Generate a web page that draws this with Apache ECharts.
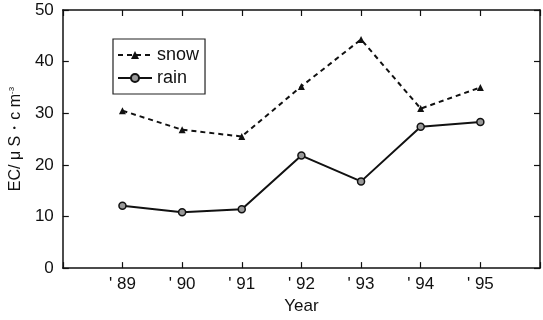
<!DOCTYPE html>
<html><head><meta charset="utf-8">
<script src="https://cdn.jsdelivr.net/npm/echarts@6/dist/echarts.min.js"></script>
<style>html,body{margin:0;padding:0;background:#fff}#c{width:543px;height:320px}</style>
</head><body><div id="c"></div>
<script>
const years = [89, 90, 91, 92, 93, 94, 95];
const snow = [30.5, 26.8, 25.5, 35.2, 44.3, 30.9, 35.0];
const rain = [12.1, 10.8, 11.4, 21.8, 16.8, 27.4, 28.3];
const yTicks = [0, 10, 20, 30, 40, 50];

const font = 'Liberation Sans, Arial, sans-serif';
const chart = echarts.init(document.getElementById('c'));
const axisLine = {show: true, onZero: false, lineStyle: {color: '#111', width: 1.5}};
const tick = {inside: true, length: 6, lineStyle: {color: '#111', width: 1.2},
  interval: (i, v) => true};
chart.setOption({
  animation: false,
  backgroundColor: '#fff',
  grid: {left: 62, right: 2, top: 10, bottom: 45},
  legend: {
    left: 113, top: 39, orient: 'vertical',
    borderColor: '#222', borderWidth: 1.2, padding: [7, 6, 7, 4],
    itemGap: 5, itemWidth: 34, itemHeight: 10,
    textStyle: {fontFamily: font, fontSize: 18, color: '#111', padding: [0, 0, 0, 0]},
    data: ['snow', 'rain']
  },
  xAxis: [{
    type: 'value', min: 88, max: 96, interval: 1, position: 'bottom',
    axisLine, splitLine: {show: false},
    axisTick: {inside: true, length: 6, lineStyle: {color: '#111', width: 1.2}},
    axisLabel: {fontFamily: font, fontSize: 17, color: '#111', margin: 8,
      formatter: v => years.includes(v) ? "' " + v : ''},
    name: 'Year', nameLocation: 'middle', nameGap: 27,
    nameTextStyle: {fontFamily: font, fontSize: 17, color: '#111'}
  }, {
    type: 'value', min: 88, max: 96, interval: 1, position: 'top',
    axisLine, splitLine: {show: false}, axisLabel: {show: false},
    axisTick: {inside: true, length: 6, lineStyle: {color: '#111', width: 1.2}}
  }],
  yAxis: [{
    type: 'value', min: yTicks[0], max: yTicks[yTicks.length - 1], interval: 10, position: 'left',
    axisLine, splitLine: {show: false},
    axisTick: {inside: true, length: 6, lineStyle: {color: '#111', width: 1.2}},
    axisLabel: {fontFamily: font, fontSize: 17, color: '#111', margin: 9},
    name: 'EC/ μ S・c m{s|-3}', nameLocation: 'middle', nameRotate: 90, nameGap: 34,
    nameTextStyle: {fontFamily: font, fontSize: 16, color: '#111',
      rich: {s: {fontSize: 8, verticalAlign: 'top', padding: [0, 0, 8, 0], fontFamily: font, color: '#111'}}}
  }, {
    type: 'value', min: 0, max: 50, interval: 10, position: 'right',
    axisLine, splitLine: {show: false}, axisLabel: {show: false},
    axisTick: {inside: true, length: 6, lineStyle: {color: '#111', width: 1.2}}
  }],
  series: [{
    name: 'snow', type: 'line',
    data: years.map((y, i) => [y, snow[i]]),
    symbol: 'triangle', symbolSize: 7,
    lineStyle: {color: '#111', width: 2, type: [5, 4]},
    itemStyle: {color: '#111'}
  }, {
    name: 'rain', type: 'line',
    data: years.map((y, i) => [y, rain[i]]),
    symbol: 'circle', symbolSize: 7,
    lineStyle: {color: '#111', width: 2},
    itemStyle: {color: '#999', borderColor: '#111', borderWidth: 1.5}
  }]
});
</script></body></html>
